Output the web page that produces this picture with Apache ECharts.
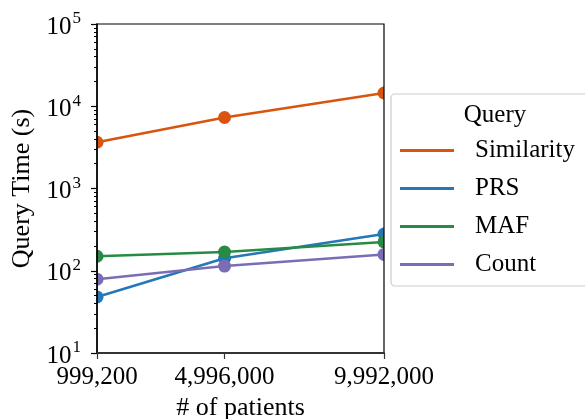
<!DOCTYPE html>
<html>
<head>
<meta charset="utf-8">
<script src="https://cdn.jsdelivr.net/npm/echarts@6/dist/echarts.min.js"></script>
<style>
  html, body { margin: 0; padding: 0; background: #fff; }
  #chart { width: 585px; height: 419px; }
</style>
</head>
<body>
<div id="chart"></div>
<script>
// Number of patients (x positions, linear scale)
const patients = [999200, 4996000, 9992000];

// Query time in seconds for each query type
const seriesNames = ['Similarity', 'PRS', 'MAF', 'Count'];
const similarity = [3650, 7300, 14500];
const prs = [48, 142, 280];
const maf = [150, 169, 224];
const count = [79, 114, 158];

const seriesColors = ['#d9540f', '#2477b8', '#278b45', '#7b6db5'];

// Log-axis decade labels and minor tick multipliers
const yDecades = [1, 2, 3, 4, 5];
const minorMultipliers = [2, 3, 4, 5, 6, 7, 8, 9];

const FONT = "Liberation Serif";
const GRID = { left: 97, right: 201, top: 24, bottom: 66 };
const W = 585, H = 419;

const chart = echarts.init(document.getElementById('chart'), null, { renderer: 'canvas' });

const allValues = [similarity, prs, maf, count];

// minor tick positions in exponent space for the helper axis
const minorTicks = [];
yDecades.slice(0, -1).forEach(function (d) {
  minorMultipliers.forEach(function (m) { minorTicks.push(d + Math.log10(m)); });
});

const series = seriesNames.map(function (name, i) {
  return {
    name: name,
    type: 'line',
    data: patients.map(function (p, j) { return [p, allValues[i][j]]; }),
    symbol: 'circle',
    symbolSize: 13,
    lineStyle: { width: 2.5, color: seriesColors[i] },
    itemStyle: { color: seriesColors[i] },
    z: 2
  };
});

const plotRight = W - GRID.right;
const plotBottom = H - GRID.bottom;

chart.setOption({
  animation: false,
  backgroundColor: '#fff',
  textStyle: { fontFamily: FONT, color: '#000' },
  grid: {
    left: GRID.left, right: GRID.right, top: GRID.top, bottom: GRID.bottom,
    containLabel: false, outerBoundsMode: 'none',
    show: true, borderColor: '#000', borderWidth: 1.2, backgroundColor: 'transparent', z: 6
  },
  title: {
    text: 'Query',
    left: 490, top: 98, textAlign: 'center',
    textStyle: { fontFamily: FONT, fontSize: 25, fontWeight: 'normal', color: '#000' },
    z: 12
  },
  legend: {
    data: seriesNames.map(function (n) { return { name: n, icon: 'rect' }; }),
    orient: 'vertical',
    left: 391, top: 94,
    padding: [44, 20, 9, 9],
    itemWidth: 54, itemHeight: 3, itemGap: 13,
    backgroundColor: '#fff',
    borderColor: '#cccccc', borderWidth: 1.2, borderRadius: 4,
    textStyle: { fontFamily: FONT, fontSize: 25, color: '#000', lineHeight: 24, padding: [0, 0, 0, 16] },
    selectedMode: false,
    z: 11
  },
  xAxis: {
    type: 'value',
    min: patients[0], max: patients[patients.length - 1],
    name: '# of patients',
    nameLocation: 'middle', nameGap: 38,
    nameTextStyle: { fontFamily: FONT, fontSize: 26, color: '#000' },
    axisLine: { show: true, lineStyle: { color: '#333', width: 2 } },
    axisTick: { show: true, length: 6, customValues: patients, lineStyle: { color: '#333', width: 1.2 } },
    axisLabel: {
      customValues: patients, margin: 12,
      alignMinLabel: 'center', alignMaxLabel: 'center',
      hideOverlap: false,
      fontFamily: FONT, fontSize: 25, color: '#000',
      formatter: function (v) { return Number(v).toLocaleString('en-US'); }
    },
    splitLine: { show: false },
    z: 10
  },
  yAxis: [{
    type: 'log',
    logBase: 10,
    min: 10, max: 100000,
    name: 'Query Time (s)',
    nameLocation: 'middle', nameGap: 62,
    nameTextStyle: { fontFamily: FONT, fontSize: 26, color: '#000' },
    axisLine: { show: true, lineStyle: { color: '#000', width: 1.5 } },
    axisTick: { show: true, length: 6, lineStyle: { color: '#000', width: 1.2 } },
    axisLabel: {
      margin: 16,
      verticalAlignMinLabel: 'middle', verticalAlignMaxLabel: 'middle',
      hideOverlap: false,
      fontFamily: FONT,
      formatter: function (v) {
        const e = Math.round(Math.log10(v));
        return '{b|10}{e|' + e + '}';
      },
      rich: {
        b: { fontFamily: FONT, fontSize: 25, color: '#000', lineHeight: 30, padding: [6, 0, 0, 0] },
        e: { fontFamily: FONT, fontSize: 17, color: '#000', lineHeight: 30, padding: [0, 0, 10, 1] }
      }
    },
    splitLine: { show: false },
    minorTick: { show: false },
    z: 10
  }, {
    // helper axis in exponent space carrying the minor log ticks
    type: 'value',
    min: yDecades[0], max: yDecades[yDecades.length - 1],
    position: 'left',
    axisLine: { show: false },
    axisTick: { show: true, length: 3, customValues: minorTicks, lineStyle: { color: '#000', width: 1 } },
    axisLabel: { show: false },
    splitLine: { show: false },
    z: 10
  }],
  // white masks just outside the plot area so edge markers appear clipped
  graphic: [
    { type: 'rect', shape: { x: GRID.left - 10, y: GRID.top - 8, width: 10, height: plotBottom - GRID.top + 16 },
      style: { fill: '#fff' }, z: 5, silent: true },
    { type: 'rect', shape: { x: plotRight, y: GRID.top - 8, width: 10, height: plotBottom - GRID.top + 16 },
      style: { fill: '#fff' }, z: 5, silent: true }
  ],
  series: series
});
</script>
</body>
</html>
